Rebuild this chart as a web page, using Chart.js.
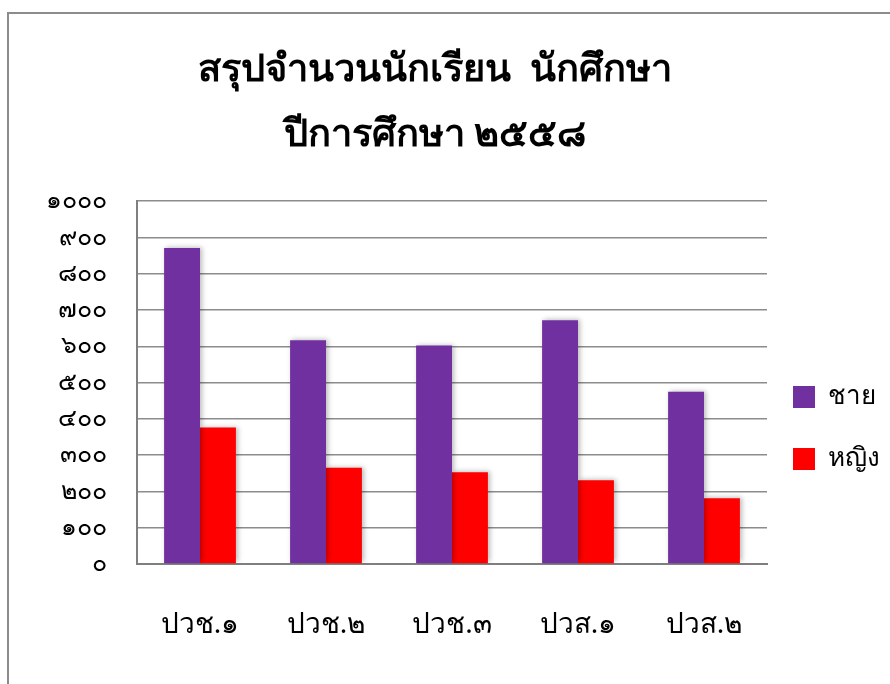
<!DOCTYPE html>
<html>
<head>
<meta charset="utf-8">
<script src="https://cdn.jsdelivr.net/npm/chart.js@4.4.0/dist/chart.umd.min.js"></script>
<style>
  body { margin: 0; background: #fff; }
  #frame { position: absolute; left: 7px; top: 12px; width: 900px; height: 700px; border: 2px solid #8c8c8c; }
  #wrap { position: absolute; left: 0; top: 0; width: 890px; height: 684px; }
</style>
</head>
<body>
<div id="frame"></div>
<div id="wrap"><canvas id="chart"></canvas></div>
<script>
    // Chart data
    const categories = ['ปวช.๑', 'ปวช.๒', 'ปวช.๓', 'ปวส.๑', 'ปวส.๒'];
    const maleValues = [871, 617, 602, 672, 475];
    const femaleValues = [376, 265, 253, 231, 181];
    const seriesNames = ['ชาย', 'หญิง'];
    const yTickLabels = ['๐', '๑๐๐', '๒๐๐', '๓๐๐', '๔๐๐', '๕๐๐', '๖๐๐', '๗๐๐', '๘๐๐', '๙๐๐', '๑๐๐๐'];
    const titleLines = ['สรุปจำนวนนักเรียน  นักศึกษา', 'ปีการศึกษา ๒๕๕๘'];

    const fontFamily = "'Noto Sans', 'DejaVu Sans', sans-serif";

    // soft shadow round the bars
    const barShadow = {
        id: 'barShadow',
        beforeDatasetsDraw(chart) {
            const c = chart.ctx;
            c.save();
            c.shadowColor = 'rgba(0,0,0,0.28)';
            c.shadowBlur = 5;
            c.shadowOffsetX = 2;
            c.shadowOffsetY = -1;
        },
        afterDatasetsDraw(chart) {
            chart.ctx.restore();
        }
    };

    // keep the title centred on the frame, nudge the legend
    const placeBoxes = {
        id: 'placeBoxes',
        afterLayout(chart) {
            if (chart.titleBlock) {
                chart.titleBlock.left = 0;
                chart.titleBlock.right = 870;
            }
            const lg = chart.legend;
            if (lg) {
                lg.left -= 10;
                lg.right -= 10;
                lg.top += 88;
                lg.bottom += 88;
            }
        }
    };

    const ctx = document.getElementById('chart').getContext('2d');

    new Chart(ctx, {
        type: 'bar',
        data: {
            labels: categories,
            datasets: [{
                label: seriesNames[0],
                data: maleValues,
                backgroundColor: '#7030a0',
                borderWidth: 0
            }, {
                label: seriesNames[1],
                data: femaleValues,
                backgroundColor: '#ff0000',
                borderWidth: 0
            }]
        },
        options: {
            responsive: true,
            maintainAspectRatio: false,
            animation: false,
            datasets: {
                bar: { categoryPercentage: 0.57, barPercentage: 1.0 }
            },
            layout: { padding: { left: 0, right: -10, top: 38, bottom: 42 } },
            plugins: {
                title: {
                    display: true,
                    text: titleLines,
                    color: '#000',
                    font: { family: fontFamily, size: 38, weight: 'bold', lineHeight: 1.7 },
                    padding: { top: 0, bottom: 34 }
                },
                legend: {
                    position: 'right',
                    labels: {
                        color: '#000',
                        boxWidth: 22,
                        boxHeight: 22,
                        padding: 36,
                        font: { family: fontFamily, size: 26 }
                    }
                },
                tooltip: { enabled: false }
            },
            scales: {
                x: {
                    afterFit: (scale) => { scale.height = 78; },
                    grid: { display: false, drawTicks: false },
                    border: { color: '#7f7f7f', width: 2 },
                    ticks: { color: '#000', padding: 44, maxRotation: 0, font: { family: fontFamily, size: 28 } }
                },
                y: {
                    min: 0,
                    max: 1000,
                    afterFit: (scale) => { scale.width = 137; },
                    grid: { color: '#8c8c8c', lineWidth: 1.5, drawTicks: false },
                    border: { color: '#7f7f7f', width: 2 },
                    ticks: {
                        stepSize: 100,
                        autoSkip: false,
                        padding: 30,
                        color: '#000',
                        font: { family: fontFamily, size: 25 },
                        callback: (v) => yTickLabels[Math.round(v / 100)]
                    }
                }
            }
        },
        plugins: [barShadow, placeBoxes]
    });
</script>
</body>
</html>
